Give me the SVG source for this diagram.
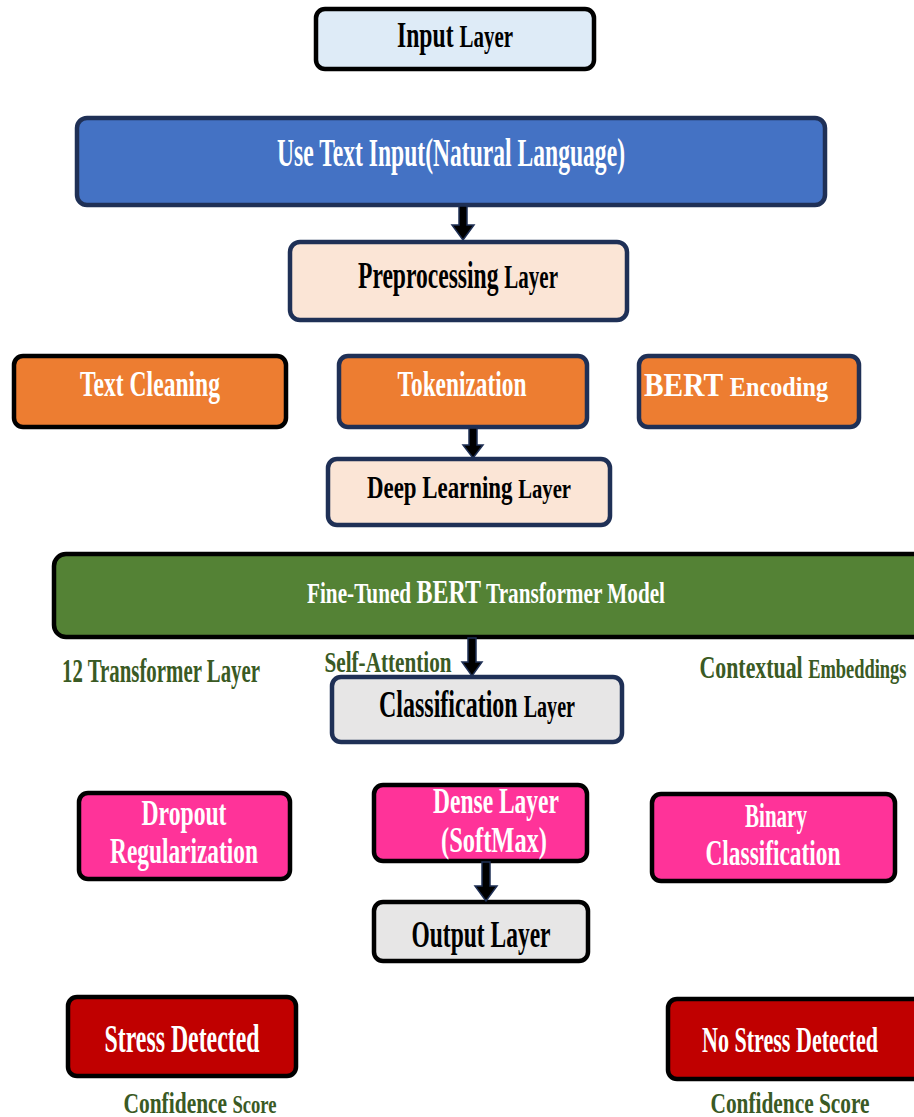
<svg xmlns="http://www.w3.org/2000/svg" width="914" height="1117" viewBox="0 0 914 1117">
<style>
  .box { stroke-width: 4.5; }
  .k { stroke: #000000; }
  .n { stroke: #1F3056; }
  text { font-family: "Liberation Serif", "Times New Roman", serif; font-weight: bold; text-anchor: middle; }
  .w { fill: #FFFFFF; }
  .b { fill: #000000; }
  .g { fill: #3A5A24; }
  .arrow { fill: #000000; stroke: #1F3056; stroke-width: 1.5; }
</style>
<rect width="914" height="1117" fill="#FFFFFF"/>

<g id="input-layer">
  <rect class="box k" x="316" y="9" width="278" height="60" rx="9" fill="#DEEBF7"/>
  <text class="b" x="455" y="47" font-size="35" textLength="116" lengthAdjust="spacingAndGlyphs">Input <tspan font-size="31">Layer</tspan></text>
</g>

<g id="user-text-input">
  <rect class="box n" x="77" y="118" width="748" height="87" rx="10" fill="#4472C4"/>
  <text class="w" x="451" y="166" font-size="41" textLength="348" lengthAdjust="spacingAndGlyphs">Use Text Input(Natural Language)</text>
</g>

<g id="preprocessing-layer">
  <rect class="box n" x="290" y="242" width="337" height="78" rx="10" fill="#FBE5D6"/>
  <text class="b" x="458" y="288" font-size="37" textLength="200" lengthAdjust="spacingAndGlyphs">Preprocessing <tspan font-size="33">Layer</tspan></text>
</g>

<g id="text-cleaning">
  <rect class="box k" x="14" y="356" width="272" height="71" rx="9" fill="#ED7D31"/>
  <text class="w" x="150" y="396" font-size="36" textLength="140" lengthAdjust="spacingAndGlyphs">Text Cleaning</text>
</g>

<g id="tokenization">
  <rect class="box n" x="339" y="356" width="248" height="71" rx="9" fill="#ED7D31"/>
  <text class="w" x="462" y="396" font-size="36" textLength="129" lengthAdjust="spacingAndGlyphs">Tokenization</text>
</g>

<g id="bert-encoding">
  <rect class="box n" x="639" y="356" width="220" height="71" rx="9" fill="#ED7D31"/>
  <text class="w" x="736" y="396" font-size="34" textLength="184" lengthAdjust="spacingAndGlyphs">BERT <tspan font-size="28">Encoding</tspan></text>
</g>

<g id="deep-learning-layer">
  <rect class="box n" x="328" y="459" width="282" height="66" rx="9" fill="#FBE5D6"/>
  <text class="b" x="469" y="498" font-size="31" textLength="204" lengthAdjust="spacingAndGlyphs">Deep Learning <tspan font-size="28">Layer</tspan></text>
</g>

<g id="bert-model">
  <rect class="box k" x="54" y="554" width="880" height="83" rx="12" fill="#548235"/>
  <text class="w" x="486" y="603" font-size="30" textLength="358" lengthAdjust="spacingAndGlyphs">Fine-Tuned <tspan font-size="34">BERT</tspan> Transformer Model</text>
</g>

<g id="bert-labels">
  <text class="g" x="161" y="682" font-size="33" textLength="198" lengthAdjust="spacingAndGlyphs">12 Transformer Layer</text>
  <text class="g" x="388" y="672" font-size="30" textLength="127" lengthAdjust="spacingAndGlyphs">Self-Attention</text>
  <text class="g" x="803" y="678" font-size="32" textLength="207" lengthAdjust="spacingAndGlyphs">Contextual <tspan font-size="27">Embeddings</tspan></text>
</g>

<g id="classification-layer">
  <rect class="box n" x="332" y="677" width="290" height="65" rx="9" fill="#E7E6E6"/>
  <text class="b" x="477" y="717" font-size="37" textLength="196" lengthAdjust="spacingAndGlyphs">Classification <tspan font-size="31">Layer</tspan></text>
</g>

<g id="dropout-regularization">
  <rect class="box k" x="79" y="793" width="211" height="86" rx="9" fill="#FF3399"/>
  <text class="w" x="184" y="825" font-size="35" textLength="85" lengthAdjust="spacingAndGlyphs">Dropout</text>
  <text class="w" x="184" y="863" font-size="35" textLength="148" lengthAdjust="spacingAndGlyphs">Regularization</text>
</g>

<g id="dense-layer">
  <rect class="box k" x="374" y="785" width="213" height="76" rx="9" fill="#FF3399"/>
  <text class="w" x="496" y="813" font-size="35" textLength="126" lengthAdjust="spacingAndGlyphs">Dense Layer</text>
  <text class="w" x="494" y="852" font-size="35" textLength="106" lengthAdjust="spacingAndGlyphs">(SoftMax)</text>
</g>

<g id="binary-classification">
  <rect class="box k" x="652" y="794" width="243" height="87" rx="9" fill="#FF3399"/>
  <text class="w" x="776" y="827" font-size="33" textLength="62" lengthAdjust="spacingAndGlyphs">Binary</text>
  <text class="w" x="773" y="865" font-size="35" textLength="135" lengthAdjust="spacingAndGlyphs">Classification</text>
</g>

<g id="output-layer">
  <rect class="box k" x="374" y="902" width="214" height="59" rx="9" fill="#E7E6E6"/>
  <text class="b" x="481" y="947" font-size="37" textLength="139" lengthAdjust="spacingAndGlyphs">Output Layer</text>
</g>

<g id="stress-detected">
  <rect class="box k" x="68" y="997" width="228" height="79" rx="9" fill="#C00000"/>
  <text class="w" x="182" y="1052" font-size="39" textLength="155" lengthAdjust="spacingAndGlyphs">Stress Detected</text>
  <text class="g" x="200" y="1113" font-size="30" textLength="153" lengthAdjust="spacingAndGlyphs">Confidence <tspan font-size="26">Score</tspan></text>
</g>

<g id="no-stress-detected">
  <rect class="box k" x="668" y="999" width="260" height="80" rx="9" fill="#C00000"/>
  <text class="w" x="790" y="1052" font-size="35" textLength="176" lengthAdjust="spacingAndGlyphs">No Stress Detected</text>
  <text class="g" x="790" y="1113" font-size="30" textLength="159" lengthAdjust="spacingAndGlyphs">Confidence Score</text>
</g>

<g id="connectors">
  <path class="arrow" d="M459,206 L467,206 L467,225 L474,225 L463,240 L452,225 L459,225 Z"/>
  <path class="arrow" d="M469,428 L477,428 L477,445 L483,445 L473,458 L463,445 L469,445 Z"/>
  <path class="arrow" d="M468,638 L476,638 L476,662 L482,662 L472,676 L462,662 L468,662 Z"/>
  <path class="arrow" d="M482,862 L490,862 L490,886 L497,886 L486,901 L475,886 L482,886 Z"/>
</g>
</svg>
